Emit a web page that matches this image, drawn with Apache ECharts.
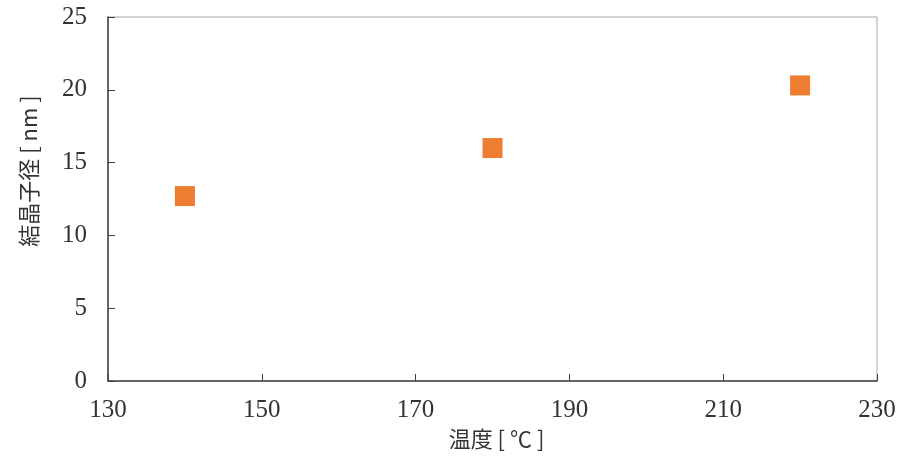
<!DOCTYPE html>
<html><head><meta charset="utf-8">
<script src="https://cdn.jsdelivr.net/npm/echarts@6/dist/echarts.min.js"></script>
<style>html,body{margin:0;padding:0;background:#fff}#c{width:904px;height:461px}</style>
</head><body><div id="c"></div>
<script>
const temperatures = [140, 180, 220];
const crystalSizes = [12.7, 16.0, 20.3];
const xTicks = [130, 150, 170, 190, 210, 230];
const yTicks = [0, 5, 10, 15, 20, 25];

const fontFam = '"Liberation Serif", "DejaVu Serif", "Noto Sans CJK JP", serif';
const cjkFam = '"Noto Sans CJK JP", sans-serif';
const chart = echarts.init(document.getElementById('c'), null, {renderer: 'canvas'});
chart.setOption({
  animation: false,
  backgroundColor: '#fff',
  grid: {left: 108, right: 27, top: 17, bottom: 80, show: true, borderColor: '#a6a6a6', borderWidth: 1},
  xAxis: {
    type: 'value', min: xTicks[0], max: xTicks[xTicks.length-1], interval: 20,
    name: '温度 [ ℃ ]', nameLocation: 'middle', nameGap: 47,
    nameTextStyle: {fontFamily: cjkFam, fontSize: 22, color: '#333', padding: [0, 0, 0, 8]},
    axisLine: {show: true, onZero: false, lineStyle: {color: '#404040', width: 1.5}},
    axisTick: {show: true, inside: true, length: 7, lineStyle: {color: '#404040'}},
    axisLabel: {fontFamily: fontFam, fontSize: 25, color: '#333', margin: 17},
    splitLine: {show: false}
  },
  yAxis: {
    type: 'value', min: yTicks[0], max: yTicks[yTicks.length-1], interval: 5,
    name: '結晶子径 [ nm ]', nameLocation: 'middle', nameGap: 68,
    nameTextStyle: {fontFamily: cjkFam, fontSize: 22, color: '#333', padding: [0, 0, 0, 56]},
    axisLine: {show: true, onZero: false, lineStyle: {color: '#404040', width: 1.5}},
    axisTick: {show: true, inside: true, length: 7, lineStyle: {color: '#404040'}},
    axisLabel: {fontFamily: fontFam, fontSize: 25, color: '#333', margin: 21},
    splitLine: {show: false}
  },
  series: [{
    type: 'scatter', symbol: 'rect', symbolSize: 20,
    itemStyle: {color: '#ED7D31', opacity: 1},
    data: temperatures.map((t, i) => [t, crystalSizes[i]])
  }]
});
</script></body></html>
